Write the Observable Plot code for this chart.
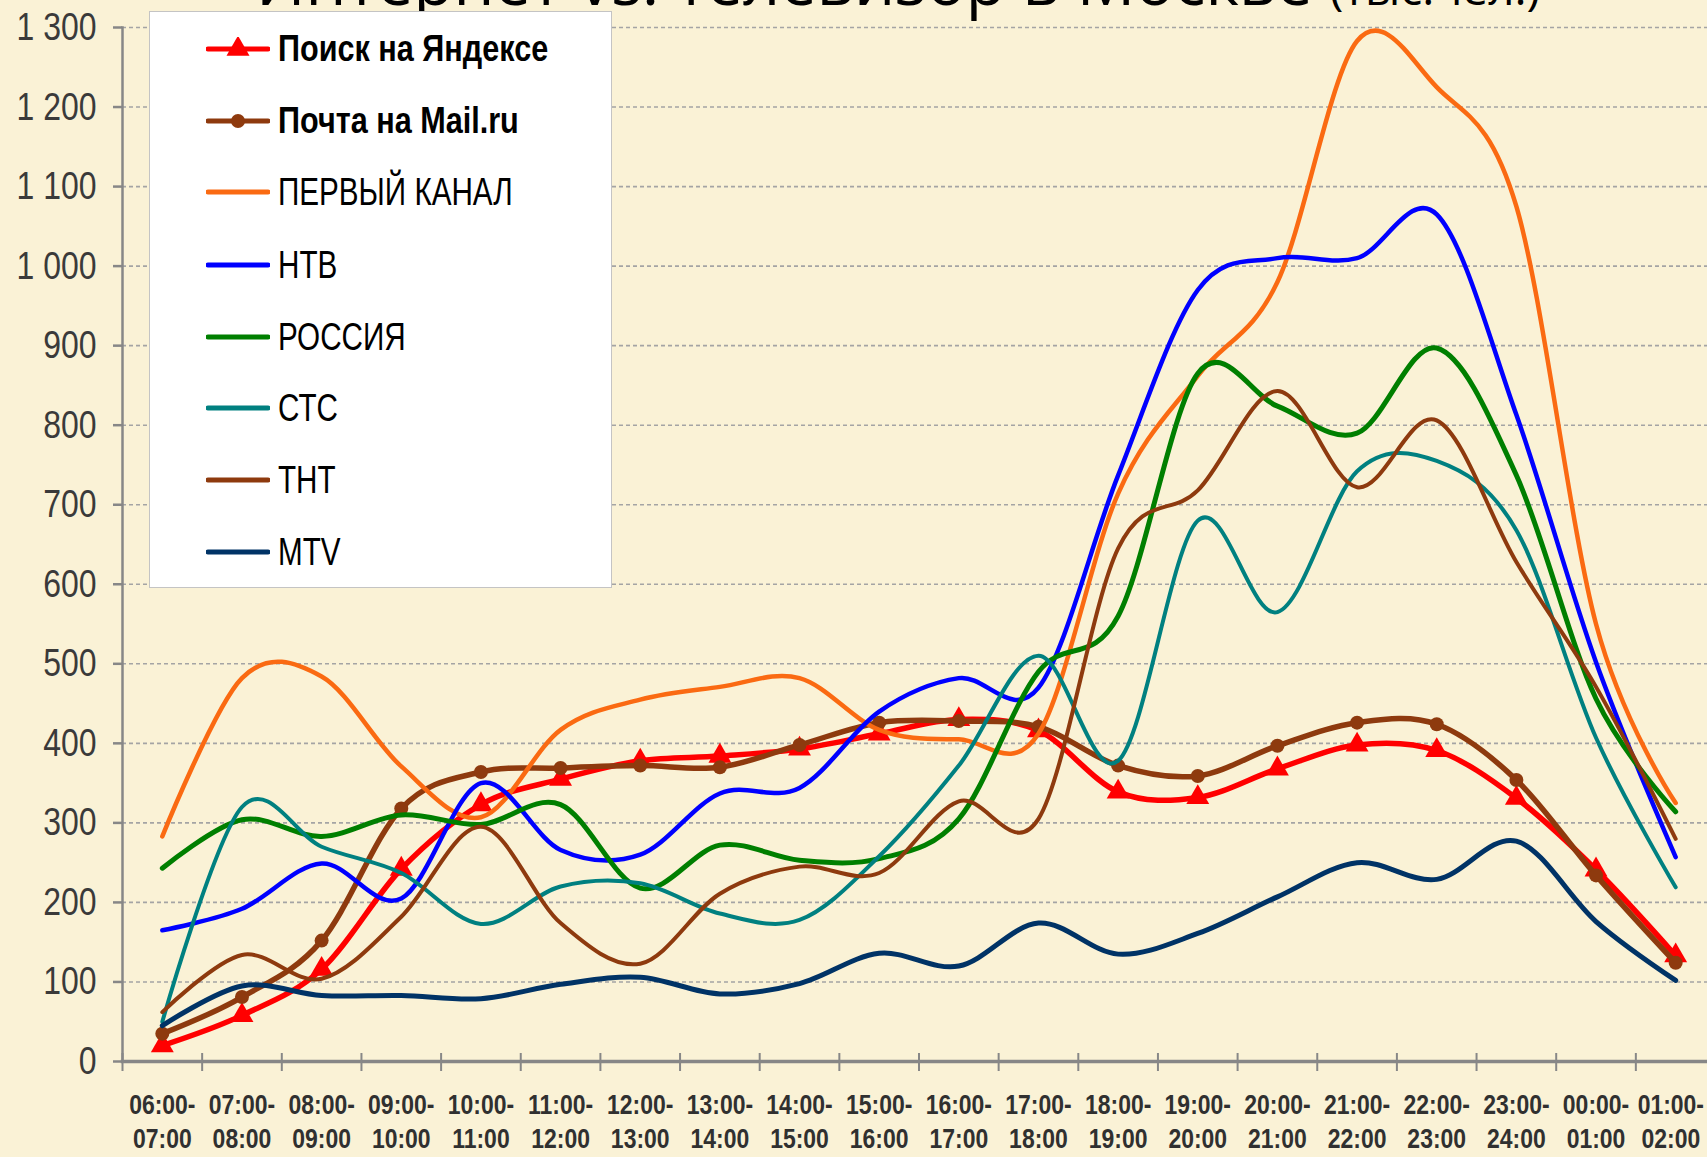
<!DOCTYPE html>
<html><head><meta charset="utf-8">
<script src="https://cdn.jsdelivr.net/npm/d3@7"></script>
<script src="https://cdn.jsdelivr.net/npm/@observablehq/plot@0.6"></script>
<style>
html,body{margin:0;padding:0;background:#FAF2D6;overflow:hidden;}
#wrap{position:relative;width:1707px;height:1157px;overflow:hidden;background:#FAF2D6;}
#chart{position:absolute;left:0;top:0;}
#title{position:absolute;left:256px;top:-52px;white-space:nowrap;font-family:'Open Sans',sans-serif;font-size:65px;line-height:65px;color:#000;}
#title .unit{font-size:46px;}
#legend{position:absolute;left:149px;top:11px;width:463px;height:577px;background:#fff;border:1px solid #C4C4C4;box-sizing:border-box;}
.item{position:absolute;left:56px;height:44px;display:flex;align-items:center;}
.item span{display:inline-block;font-family:'Liberation Sans',Arial,sans-serif;font-size:38px;margin-left:8px;color:#000;white-space:nowrap;transform:scaleX(0.78);transform-origin:left center;}
.item span.b{font-weight:bold;font-size:36px;transform:scaleX(0.85);}
</style></head>
<body><div id="wrap"><div id="chart"></div><div id="title"></div><div id="legend"></div></div>
<script>
const titleMain = "Интернет vs. телевизор в Москве ";
const titleUnit = "(тыс.чел.)";

const categories = ["06:00-07:00","07:00-08:00","08:00-09:00","09:00-10:00","10:00-11:00","11:00-12:00","12:00-13:00","13:00-14:00","14:00-15:00","15:00-16:00","16:00-17:00","17:00-18:00","18:00-19:00","19:00-20:00","20:00-21:00","21:00-22:00","22:00-23:00","23:00-24:00","00:00-01:00","01:00-02:00"];

const yTicks = [0,100,200,300,400,500,600,700,800,900,1000,1100,1200,1300];

const seriesNames = ["Поиск на Яндексе","Почта на Mail.ru","ПЕРВЫЙ КАНАЛ","НТВ","РОССИЯ","СТС","ТНТ","MTV"];

const yandex  = [20, 58, 116, 242, 323, 355, 378, 384, 393, 412, 430, 416, 339, 332, 368, 398, 391, 331, 241, 133];
const mail    = [35, 81, 152, 318, 364, 369, 372, 370, 398, 426, 428, 421, 372, 359, 397, 426, 424, 354, 234, 124];
const perviy  = [283, 482, 484, 371, 307, 417, 455, 471, 482, 417, 405, 412, 714, 862, 980, 1283, 1225, 1075, 550, 325];
const ntv     = [165, 192, 249, 205, 350, 266, 260, 337, 344, 440, 482, 470, 737, 970, 1010, 1010, 1065, 813, 502, 257];
const rossiya = [243, 304, 283, 310, 298, 323, 218, 272, 253, 255, 305, 490, 560, 865, 824, 790, 897, 737, 456, 314];
const sts     = [50, 320, 270, 237, 173, 220, 224, 186, 178, 258, 372, 510, 378, 680, 565, 742, 755, 668, 407, 219];
const tnt     = [62, 134, 104, 182, 295, 174, 123, 211, 245, 237, 327, 305, 645, 718, 843, 722, 806, 628, 471, 280];
const mtv     = [45, 95, 83, 83, 79, 97, 106, 85, 98, 136, 120, 174, 135, 161, 207, 250, 229, 277, 176, 102];

const seriesValues = [yandex, mail, perviy, ntv, rossiya, sts, tnt, mtv];
const seriesColors = ["#FF0000","#8E3A0E","#FA6A12","#0000FF","#007F00","#008080","#8E3A0E","#003366"];
const seriesWidths = [5.5, 5.5, 4.5, 4.5, 5, 4, 4, 5];
const seriesMarkers = ["triangle","circle",null,null,null,null,null,null];

const series = seriesNames.map((name, k) => ({
  name, color: seriesColors[k], width: seriesWidths[k], marker: seriesMarkers[k],
  rows: seriesValues[k].map((v, i) => ({x: i + 0.5, v, cat: categories[i]}))
}));

const FONT = "'Liberation Sans',Arial,sans-serif";
const fmtY = d => d3.format(",")(d).replace(/,/g, " ");
const xLabel = i => { const c = categories[Math.floor(i)]; const p = c.indexOf("-"); return c.slice(0, p + 1) + "\n" + c.slice(p + 1); };

const marks = [
  Plot.gridY(yTicks.filter(d => d > 0), {stroke: "#A4A4A4", strokeOpacity: 1, strokeWidth: 1.6, strokeDasharray: "4,3"}),
  Plot.frame({anchor: "left", stroke: "#878787", strokeWidth: 2.5}),
  Plot.frame({anchor: "bottom", stroke: "#878787", strokeWidth: 3.5}),
  Plot.axisY({ticks: yTicks, label: null, tickSize: 9, tickPadding: 17, tickFormat: fmtY, stroke: "#878787", strokeWidth: 2.5, color: "#3A3A3A", fontSize: 39, fontFamily: FONT}),
  Plot.axisX({ticks: d3.range(0, categories.length + 1), label: null, tickSize: 18, dy: -8, tickFormat: () => "", stroke: "#878787", strokeWidth: 2}),
  Plot.axisX({ticks: categories.map((c, i) => i + 0.5), label: null, tickSize: 0, tickPadding: 28, tickFormat: xLabel, fontSize: 28, fontWeight: "bold", lineHeight: 1.22, color: "#303030", fontFamily: FONT})
];
for (const s of series) {
  marks.push(Plot.line(s.rows, {x: "x", y: "v", stroke: s.color, strokeWidth: s.width, curve: "cardinal", tension: 0, strokeLinejoin: "round"}));
  if (s.marker === "triangle") marks.push(Plot.dot(s.rows, {x: "x", y: "v", symbol: "triangle", r: 8.5, fill: s.color, stroke: null}));
  if (s.marker === "circle") marks.push(Plot.dot(s.rows, {x: "x", y: "v", symbol: "circle", r: 7, fill: s.color, stroke: null}));
}

const chart = Plot.plot({
  width: 1707, height: 1157,
  marginLeft: 122, marginRight: 0, marginTop: 27, marginBottom: 96,
  x: {domain: [0, categories.length], range: [122, 1715]},
  y: {domain: [0, 1300]},
  style: {background: "#FAF2D6", fontFamily: FONT, overflow: "hidden"},
  marks
});
document.getElementById("chart").appendChild(chart);

// condense axis label text horizontally (narrow font look), keeping each label's anchor point
function condense(sel, k) {
  sel.each(function() {
    const el = d3.select(this);
    el.attr("transform", (el.attr("transform") || "") + ` scale(${k},1)`);
  });
}
const root = d3.select(chart);
condense(root.selectAll("g[aria-label='y-axis tick label'] text"), 0.82);
condense(root.selectAll("g[aria-label='x-axis tick label'] text"), 0.82);
// keep the last x label inside the picture, as the reference does
root.selectAll("g[aria-label='x-axis tick label'] text").each(function() {
  const r = this.getBoundingClientRect();
  const limit = 1704;
  if (r.right > limit && r.width > 0) {
    const el = d3.select(this);
    el.attr("transform", `translate(${limit - r.right},0) ` + el.attr("transform"));
  }
});

// title
const t = d3.select("#title");
t.append("span").text(titleMain);
t.append("span").attr("class", "unit").text(titleUnit);

// legend
const legendY = [37, 109, 180, 253, 325, 396, 468, 540];
const lg = d3.select("#legend");
series.forEach((s, k) => {
  const it = lg.append("div").attr("class", "item").style("top", (legendY[k] - 22) + "px");
  const sv = it.append("svg").attr("width", 64).attr("height", 24);
  sv.append("line").attr("x1", 2).attr("x2", 62).attr("y1", 12).attr("y2", 12)
    .attr("stroke", s.color).attr("stroke-width", 5).attr("stroke-linecap", "round");
  if (s.marker === "triangle") sv.append("path").attr("transform", "translate(32,12)").attr("d", d3.symbol(d3.symbolTriangle, 230)()).attr("fill", s.color);
  if (s.marker === "circle") sv.append("circle").attr("cx", 32).attr("cy", 12).attr("r", 7).attr("fill", s.color);
  it.append("span").attr("class", s.marker ? "b" : null).text(s.name);
});
</script></body></html>
